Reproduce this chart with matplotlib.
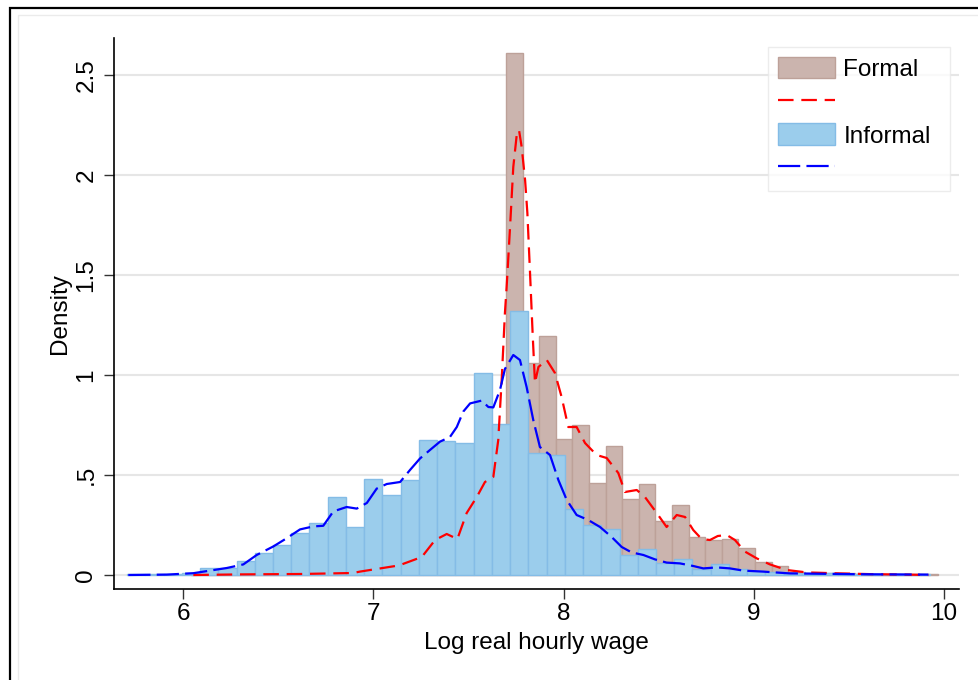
import matplotlib
matplotlib.use("Agg")
from matplotlib import pyplot as plt
from matplotlib.lines import Line2D
from matplotlib.patches import Patch, Rectangle

# histogram bins (density)
formal_start = 6.040
formal_width = 0.08725
formal_density = [
    0.003, 0.004, 0.005, 0.006, 0.007, 0.008, 0.010, 0.012, 0.015, 0.020,
    0.025, 0.035, 0.050, 0.090, 0.170, 0.190, 0.300, 0.420, 0.700, 2.610,
    1.060, 1.195, 0.680, 0.750, 0.460, 0.645, 0.380, 0.455, 0.270, 0.350,
    0.190, 0.175, 0.180, 0.135, 0.065, 0.045, 0.015, 0.012, 0.010, 0.008,
    0.006, 0.005, 0.004, 0.004, 0.003,
]

informal_start = 5.706
informal_width = 0.09587
informal_density = [
    0.003, 0.004, 0.005, 0.008, 0.035, 0.035, 0.070, 0.110, 0.150, 0.210,
    0.260, 0.390, 0.240, 0.480, 0.400, 0.475, 0.675, 0.670, 0.660, 1.010,
    0.755, 1.320, 0.610, 0.600, 0.330, 0.250, 0.230, 0.100, 0.130, 0.060,
    0.080, 0.030, 0.055, 0.030, 0.020, 0.015, 0.012, 0.010, 0.008, 0.006,
    0.005, 0.004, 0.003, 0.003,
]

# kernel density curves
formal_kde_x = [
    6.054, 6.300, 6.615, 6.894, 6.930, 7.123, 7.141, 7.255, 7.325, 7.386,
    7.442, 7.491, 7.544, 7.587, 7.631, 7.657, 7.675, 7.692, 7.701, 7.719,
    7.736, 7.754, 7.766, 7.780, 7.798, 7.810, 7.824, 7.838, 7.850, 7.868,
    7.912, 7.955, 7.990, 8.025, 8.069, 8.113, 8.174, 8.227, 8.288, 8.323,
    8.385, 8.428, 8.490, 8.542, 8.595, 8.639, 8.682, 8.726, 8.770, 8.811,
    8.858, 8.901, 8.954, 9.016, 9.085, 9.173, 9.278, 9.453, 9.628, 9.804,
    9.918,
]
formal_kde_y = [
    0.000, 0.003, 0.005, 0.010, 0.017, 0.046, 0.050, 0.090, 0.175, 0.205,
    0.180, 0.310, 0.390, 0.465, 0.490, 0.675, 0.975, 1.310, 1.440, 1.740,
    2.040, 2.200, 2.225, 2.140, 1.975, 1.810, 1.510, 1.200, 0.960, 1.040,
    1.075, 1.010, 0.890, 0.740, 0.740, 0.660, 0.600, 0.585, 0.510, 0.415,
    0.425, 0.390, 0.310, 0.240, 0.300, 0.290, 0.225, 0.180, 0.175, 0.195,
    0.200, 0.175, 0.117, 0.083, 0.053, 0.025, 0.013, 0.008, 0.004, 0.002,
    0.000,
]

informal_kde_x = [
    5.712, 5.914, 6.054, 6.230, 6.317, 6.387, 6.475, 6.545, 6.615, 6.685,
    6.737, 6.790, 6.860, 6.913, 6.966, 7.018, 7.071, 7.141, 7.193, 7.246,
    7.298, 7.351, 7.403, 7.439, 7.473, 7.509, 7.570, 7.605, 7.631, 7.666,
    7.692, 7.736, 7.771, 7.806, 7.841, 7.876, 7.929, 7.973, 8.017, 8.069,
    8.130, 8.192, 8.253, 8.306, 8.358, 8.420, 8.481, 8.542, 8.612, 8.682,
    8.735, 8.805, 8.875, 8.945, 9.050, 9.190, 9.366, 9.541, 9.716, 9.918,
]
informal_kde_y = [
    0.000, 0.002, 0.009, 0.035, 0.053, 0.100, 0.143, 0.184, 0.228, 0.243,
    0.246, 0.318, 0.340, 0.332, 0.360, 0.432, 0.455, 0.465, 0.525, 0.583,
    0.625, 0.667, 0.690, 0.740, 0.817, 0.858, 0.872, 0.840, 0.838, 0.925,
    1.030, 1.100, 1.075, 0.940, 0.775, 0.640, 0.600, 0.475, 0.375, 0.300,
    0.275, 0.240, 0.190, 0.140, 0.113, 0.100, 0.078, 0.062, 0.058, 0.045,
    0.033, 0.038, 0.033, 0.022, 0.017, 0.008, 0.006, 0.004, 0.003, 0.002,
]

x_ticks = [6, 7, 8, 9, 10]
y_ticks = [0, 0.5, 1, 1.5, 2, 2.5]
y_tick_labels = ['0', '.5', '1', '1.5', '2', '2.5']

FORMAL_FILL = '#CBB4AE'
FORMAL_EDGE = '#BDA199'
INFORMAL_FILL = '#9BCDEC'
INFORMAL_EDGE = '#84BCE6'

plt.rcParams['font.family'] = ['Liberation Sans', 'DejaVu Sans']
FS = 17.5

fig = plt.figure(figsize=(9.79, 6.8), dpi=100)
ax = fig.add_axes([114 / 979, 1 - 589 / 680, (959 - 114) / 979, (589 - 38) / 680])

formal_left = [formal_start + i * formal_width for i in range(len(formal_density))]
informal_left = [informal_start + i * informal_width for i in range(len(informal_density))]

ax.bar(formal_left, formal_density, width=formal_width, align='edge',
       color=FORMAL_FILL, edgecolor=FORMAL_EDGE, linewidth=1.0, zorder=2)
ax.bar(informal_left, informal_density, width=informal_width, align='edge',
       color=INFORMAL_FILL, edgecolor=INFORMAL_EDGE, linewidth=1.0, zorder=3)

ax.plot(formal_kde_x, formal_kde_y, color='red', lw=1.6,
        linestyle=(0, (7, 3.5)), zorder=4)
ax.plot(informal_kde_x, informal_kde_y, color='blue', lw=1.6,
        linestyle=(0, (10, 2.8)), zorder=5)

ax.set_xlim(5.637, 10.079)
ax.set_ylim(-0.07, 2.685)
ax.set_xticks(x_ticks)
ax.set_yticks(y_ticks)
ax.set_yticklabels(y_tick_labels, rotation=90, va='center')
ax.tick_params(axis='both', labelsize=FS, length=7, width=1.0, color='#333333')
ax.tick_params(axis='x', pad=3)
ax.tick_params(axis='y', pad=5)

ax.grid(axis='y', color='#E6E6E6', lw=1.5)
ax.set_axisbelow(True)
for side in ['top', 'right']:
    ax.spines[side].set_visible(False)
for side in ['left', 'bottom']:
    ax.spines[side].set_linewidth(1.2)

ax.set_xlabel('Log real hourly wage', fontsize=FS, labelpad=5)
ax.set_ylabel('Density', fontsize=FS, labelpad=3)

handles = [
    Patch(facecolor=FORMAL_FILL, edgecolor=FORMAL_EDGE),
    Line2D([], [], color='red', lw=1.6, linestyle=(0, (7, 3.5))),
    Patch(facecolor=INFORMAL_FILL, edgecolor=INFORMAL_EDGE),
    Line2D([], [], color='blue', lw=1.6, linestyle=(0, (10, 2.8))),
]
labels = ['Formal', '', 'Informal', '']
leg_x0 = (768 - 114) / 845
leg_x1 = (950 - 114) / 845
leg = ax.legend(handles, labels, loc='upper right',
                bbox_to_anchor=(leg_x0, 0.5, leg_x1 - leg_x0, 0.484), mode='expand',
                borderaxespad=0, fontsize=FS, frameon=True, fancybox=False,
                handlelength=2.35, handleheight=1.0, labelspacing=0.38,
                handletextpad=0.35, borderpad=0.4)
leg.get_frame().set_edgecolor('#E8E8E8')
leg.get_frame().set_linewidth(1.0)
leg.set_zorder(10)

# outer graph frame (cut by the image edge on the right and bottom)
fig.add_artist(Rectangle((17.5 / 979, -0.2), 1.3, 1.2 - 15 / 680, transform=fig.transFigure,
                         fill=False, ec='#EBEBEB', lw=1.0, clip_on=False))
fig.add_artist(Rectangle((9.5 / 979, -0.2), 1.3, 1.2 - 8 / 680, transform=fig.transFigure,
                         fill=False, ec='black', lw=1.6, clip_on=False))

fig.savefig('out.png', dpi=100)
